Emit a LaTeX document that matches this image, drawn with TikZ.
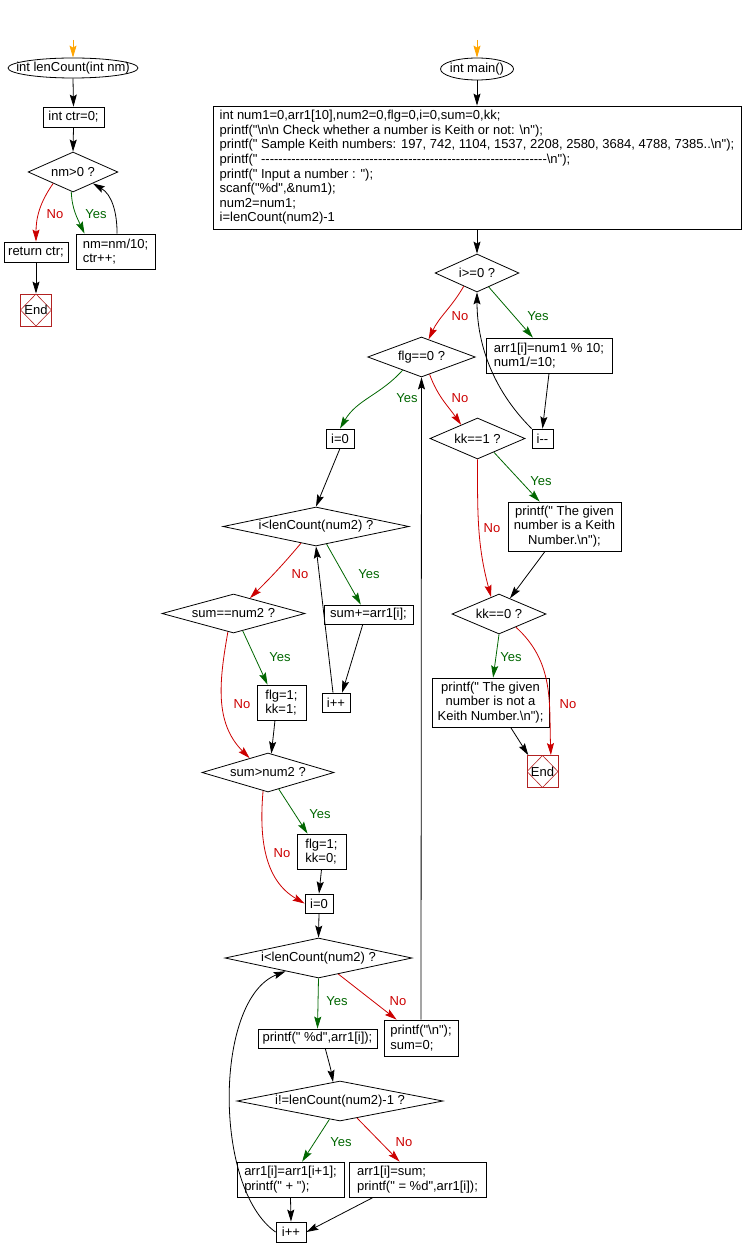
\documentclass[tikz,border=0pt]{standalone}
\usepackage{fontspec}
\setmainfont{Liberation Sans}[Ligatures=TeXOff]
\usepackage{xcolor}
\usetikzlibrary{shapes.geometric,arrows.meta}
\definecolor{nored}{HTML}{CC0000}
\definecolor{yesgreen}{HTML}{006600}
\definecolor{entryorange}{HTML}{FFA500}
\definecolor{endred}{HTML}{B22222}
\newcommand\bs{\textbackslash}

\begin{document}
\begin{tikzpicture}[x=1pt,y=1pt,
  font=\fontsize{13}{14.6}\selectfont,
  line width=0.8pt,
  arr/.style={-{Stealth[length=12pt,width=7pt,inset=2pt]}},
  flow/.style={draw=black,arr},
  yes/.style={draw=yesgreen,arr},
  no/.style={draw=nored,arr},
  entry/.style={draw=entryorange,arr},
  box/.style={draw,rectangle,inner sep=0pt,align=left},
  cond/.style={draw,diamond,aspect=5,inner sep=0pt},
  term/.style={draw,ellipse,inner sep=0pt},
  endbox/.style={draw=endred,rectangle,minimum width=31pt,minimum height=32pt,inner sep=0pt,
    path picture={\draw[endred,line width=0.6pt] (path picture bounding box.north) -- (path picture bounding box.east)
      -- (path picture bounding box.south) -- (path picture bounding box.west) -- cycle;}},
  ylbl/.style={text=yesgreen},
  nlbl/.style={text=nored}]
\useasboundingbox (0,0) rectangle (743,-1257);

% lenCount
\coordinate (inA) at (73,-40);
\node[term,minimum width=130pt,minimum height=20pt] (lenA) at (73,-68) {\makebox[0pt]{int lenCount(int nm)}};
\node[box,minimum width=61pt,minimum height=20pt] (ctrA) at (73.5,-117) {int ctr=0;};
\node[cond,minimum width=88pt,minimum height=40pt] (posA) at (73,-172) {nm>0 ?};
\node[box,minimum width=64pt,minimum height=20pt] (retA) at (36,-252) {return ctr;};
\node[box,minimum width=79pt,minimum height=35pt] (divA) at (115.5,-251.5) {nm=nm/10;\\ctr++;};
\node[endbox] (endA) at (36,-310) {End};
\node[nlbl] (noA) at (55,-214) {No};
\node[ylbl] (yesA) at (96,-214) {Yes};

\draw[entry] (inA) -- (lenA.north);
\draw[flow] (lenA.south) -- (ctrA.north);
\draw[flow] (ctrA.south) -- (posA.north);
\draw[no] (posA.-150) to[out=-125,in=90] (retA.north);
\draw[flow] (retA.south) -- (endA.north);
\draw[yes] (posA.-95) to[out=-88,in=115] (divA.150);
\draw[flow] (divA.85) to[out=90,in=-30] (posA.-30);

% main
\coordinate (inB) at (477,-40);
\node[term,minimum width=73pt,minimum height=22pt] (mainB) at (477,-69) {\makebox[0pt]{int main()}};
\node[box,minimum width=528pt,minimum height=123pt] (initB) at (477,-167.5) {int num1=0,arr1[10],num2=0,flg=0,i=0,sum=0,kk;\\
printf("\bs n\bs n Check whether a number is Keith or not: \bs n");\\
printf(" Sample Keith numbers: 197, 742, 1104, 1537, 2208, 2580, 3684, 4788, 7385..\bs n");\\
printf(" ------------------------------------------------------------------\bs n");\\
printf(" Input a number : ");\\
scanf("\%d",\&num1);\\
num2=num1;\\
i=lenCount(num2)-1};
\node[cond,minimum width=79pt,minimum height=38pt] (loopB) at (477,-273) {i>=0 ?};
\node[box,minimum width=126pt,minimum height=35pt] (digB) at (549,-355.5) {arr1[i]=num1 \% 10;\\num1/=10;};
\node[box,minimum width=21pt,minimum height=19pt] (decB) at (542.5,-438.5) {i--};
\node[cond,minimum width=95pt,minimum height=40pt] (flgB) at (421.5,-357) {flg==0 ?};
\node[cond,minimum width=95pt,minimum height=41pt] (kkoneB) at (477.5,-438.5) {kk==1 ?};
\node[box,minimum width=28pt,minimum height=19pt] (zeroB) at (340,-438.5) {i=0};
\node[cond,minimum width=186pt,minimum height=39pt] (sumloopB) at (316,-526.5) {i<lenCount(num2) ?};
\node[box,minimum width=89pt,minimum height=19pt] (addB) at (368.5,-614.5) {sum+=arr1[i];};
\node[box,minimum width=28pt,minimum height=19pt] (incB) at (336,-702.5) {i++};
\node[cond,minimum width=143pt,minimum height=39pt] (eqB) at (233.5,-613.5) {sum==num2 ?};
\node[box,minimum width=49pt,minimum height=35pt] (hitB) at (281.5,-702.5) {flg=1;\\kk=1;};
\node[cond,minimum width=132pt,minimum height=39pt] (gtB) at (268,-772.5) {sum>num2 ?};
\node[box,minimum width=49pt,minimum height=35pt] (missB) at (321.5,-851.5) {flg=1;\\kk=0;};
\node[box,minimum width=28pt,minimum height=19pt] (zeroC) at (319,-903.5) {i=0};
\node[cond,minimum width=187pt,minimum height=40pt] (shiftloopC) at (318.5,-958) {i<lenCount(num2) ?};
\node[box,minimum width=119pt,minimum height=19pt] (prtC) at (317.5,-1038.5) {printf(" \%d",arr1[i]);};
\node[box,minimum width=74pt,minimum height=36pt] (nlC) at (421,-1038) {printf("\bs n");\\sum=0;};
\node[cond,minimum width=206pt,minimum height=40pt] (lastC) at (340,-1101) {i!=lenCount(num2)-1 ?};
\node[box,minimum width=107pt,minimum height=35pt] (shfC) at (290.5,-1179.5) {arr1[i]=arr1[i+1];\\printf(" + ");};
\node[box,minimum width=137pt,minimum height=35pt] (finC) at (417.5,-1179.5) {arr1[i]=sum;\\printf(" = \%d",arr1[i]);};
\node[box,minimum width=30pt,minimum height=20pt] (incC) at (291,-1232) {i++};
\node[box,align=center,minimum width=113pt,minimum height=49pt] (isB) at (564.5,-526.5) {printf(" The given\\number is a Keith\\Number.\bs n");};
\node[cond,minimum width=94pt,minimum height=40pt] (kkzeroB) at (499,-614) {kk==0 ?};
\node[box,align=center,minimum width=117pt,minimum height=49pt] (notB) at (490.5,-702.5) {printf(" The given\\number is not a\\Keith Number.\bs n");};
\node[endbox] (endB) at (542.5,-771.5) {End};

% labels
\node[ylbl] (yesB) at (538,-316) {Yes};
\node[nlbl] (noB) at (460,-316) {No};
\node[nlbl] (noC) at (460,-398) {No};
\node[ylbl] (yesC) at (407,-398) {Yes};
\node[nlbl] (noD) at (300,-574) {No};
\node[ylbl] (yesD) at (369,-574) {Yes};
\node[ylbl] (yesE) at (280,-657) {Yes};
\node[nlbl] (noE) at (242,-704) {No};
\node[ylbl] (yesF) at (320,-814) {Yes};
\node[nlbl] (noF) at (282,-853) {No};
\node[ylbl] (yesG) at (337,-1001) {Yes};
\node[nlbl] (noG) at (398,-1001) {No};
\node[ylbl] (yesH) at (341,-1142) {Yes};
\node[nlbl] (noH) at (404,-1142) {No};
\node[nlbl] (noI) at (492,-528) {No};
\node[ylbl] (yesI) at (541,-481) {Yes};
\node[ylbl] (yesJ) at (511,-657) {Yes};
\node[nlbl] (noJ) at (568,-704) {No};

\draw[entry] (inB) -- (mainB.north);
\draw[flow] (mainB.south) -- (initB.north);
\draw[flow] (initB.south) -- (loopB.north);
\draw[yes] (loopB.-50) -- (digB.132);
\draw[flow] (digB.south) -- (decB.north);
\draw[flow] (decB.north west) .. controls +(-40,40) and +(0,-50) .. (loopB.south);
\draw[no] (loopB.-135) to[out=-120,in=65] (flgB.68);
\draw[no] (flgB.-65) to[out=-70,in=125] (kkoneB.140);
\draw[yes] (flgB.-145) to[out=-132,in=60] (zeroB.north);
\draw[flow] (nlC.north) -- (flgB.south);
\draw[flow] (zeroB.south) -- (sumloopB.north);
\draw[no] (sumloopB.-132) to[out=-130,in=45] (eqB.43);
\draw[yes] (sumloopB.-59) -- (addB.128);
\draw[flow] (addB.-120) -- (incB.58);
\draw[flow] (incB.107) -- (sumloopB.south);
\draw[yes] (eqB.-62) -- (hitB.128);
\draw[no] (eqB.-107) to[out=-100,in=135] (gtB.142);
\draw[flow] (hitB.-110) -- (gtB.80);
\draw[yes] (gtB.-57) -- (missB.128);
\draw[no] (gtB.-105) to[out=-95,in=150] (zeroC.west);
\draw[flow] (missB.south) -- (zeroC.north);
\draw[flow] (zeroC.south) -- (shiftloopC.north);
\draw[yes] (shiftloopC.south) -- (prtC.north);
\draw[no] (shiftloopC.-39) -- (nlC.143);
\draw[flow] (prtC.-52) to[out=-75,in=100] (lastC.110);
\draw[yes] (lastC.-120) -- (shfC.57);
\draw[no] (lastC.-45) -- (finC.135);
\draw[flow] (shfC.south) -- (incC.north);
\draw[flow] (finC.-158) -- (incC.east);
\draw[flow] (incC.west) to[out=145,in=-159,looseness=0.75] (shiftloopC.-158);
\draw[no] (kkoneB.south) to[out=-90,in=105] (kkzeroB.115);
\draw[yes] (kkoneB.-40) -- (isB.135);
\draw[flow] (isB.-128) -- (kkzeroB.55);
\draw[yes] (kkzeroB.south) -- (notB.84);
\draw[no] (kkzeroB.-38) to[out=-42,in=92] (endB.63);
\draw[flow] (notB.-51) -- (endB.131);
\end{tikzpicture}
\end{document}
